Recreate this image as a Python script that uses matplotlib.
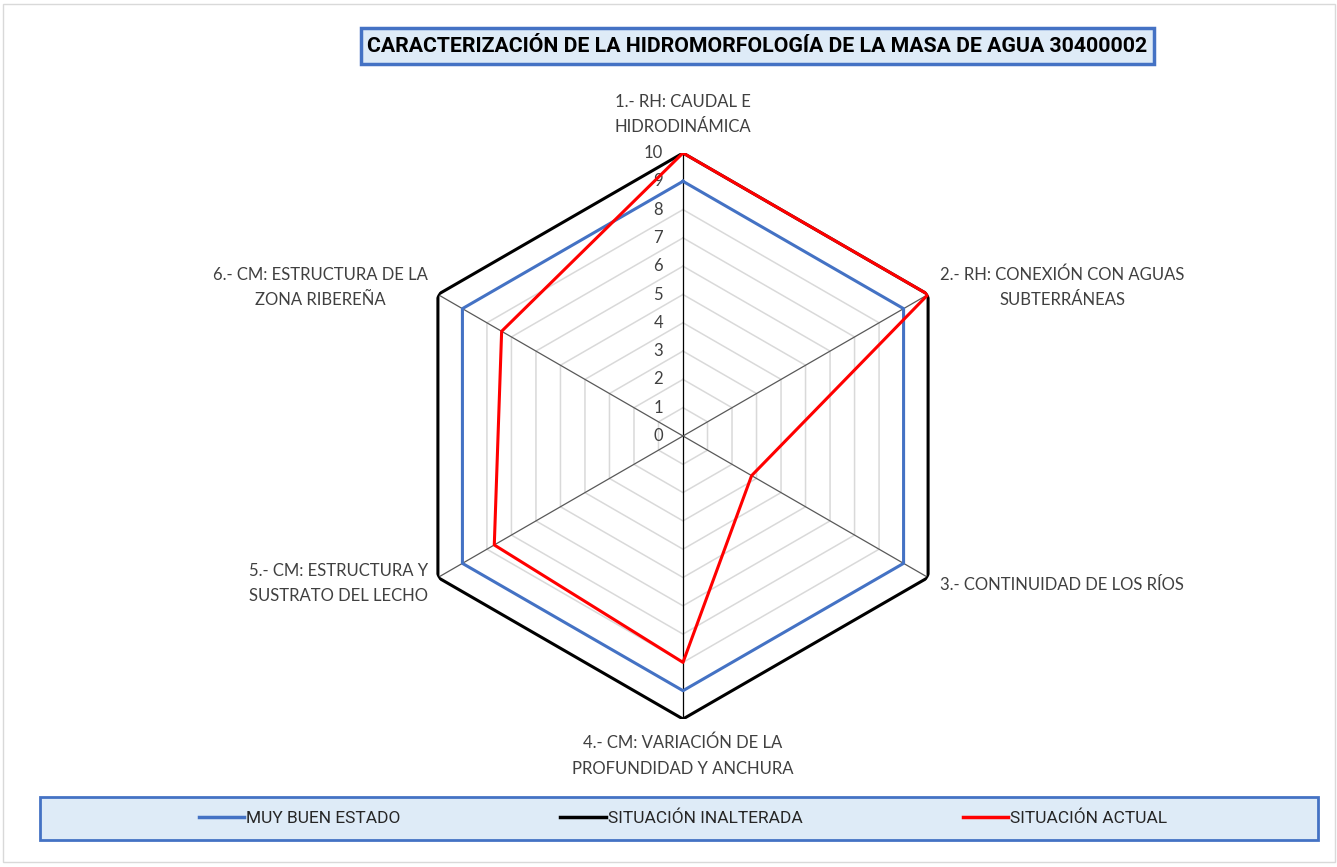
import numpy as np
import matplotlib
matplotlib.use("Agg")
import matplotlib.pyplot as plt
from matplotlib.lines import Line2D
from matplotlib.patches import Rectangle

# Chart data
categories = [
    "1.- RH: CAUDAL E\nHIDRODINÁMICA",
    "2.- RH: CONEXIÓN CON AGUAS\nSUBTERRÁNEAS",
    "3.- CONTINUIDAD DE LOS RÍOS",
    "4.- CM: VARIACIÓN DE LA\nPROFUNDIDAD Y ANCHURA",
    "5.- CM: ESTRUCTURA Y\nSUSTRATO DEL LECHO",
    "6.- CM: ESTRUCTURA DE LA\nZONA RIBEREÑA",
]
muy_buen_estado = [9, 9, 9, 9, 9, 9]
situacion_inalterada = [10, 10, 10, 10, 10, 10]
situacion_actual = [10, 10, 2.8, 8, 7.7, 7.4]
tick_values = [0, 1, 2, 3, 4, 5, 6, 7, 8, 9, 10]

series_names = ["MUY BUEN ESTADO", "SITUACIÓN INALTERADA", "SITUACIÓN ACTUAL"]
series_colors = ["#4472C4", "#000000", "#FF0000"]

TITLE = "CARACTERIZACIÓN DE LA HIDROMORFOLOGÍA DE LA MASA DE AGUA 30400002"

LABEL_FONT = ["Lato", "DejaVu Sans"]
NARROW_FONT = ["Roboto", "DejaVu Sans"]

W, H = 1337, 867
fig = plt.figure(figsize=(W / 100, H / 100), dpi=100)

# outer thin border
fig.patches.append(Rectangle((3 / W, 5 / H), 1332 / W, 858 / H, transform=fig.transFigure,
                             fill=False, edgecolor="#D9D9D9", linewidth=1))

# polar axes: center (683, 436), radius 283 px
cx, cy, rad = 683, 436, 283
ax = fig.add_axes([(cx - rad) / W, (H - cy - rad) / H, 2 * rad / W, 2 * rad / H],
                  projection="polar")
ax.set_theta_zero_location("N")
ax.set_theta_direction(-1)
ax.set_ylim(0, 10)
ax.grid(False)
ax.set_xticks([])
ax.set_yticks([])
ax.spines["polar"].set_visible(False)
ax.patch.set_visible(False)

n = len(categories)
theta = np.arange(n) * 2 * np.pi / n
theta_closed = np.append(theta, theta[0])

# hexagonal gridlines
for level in tick_values[1:]:
    ax.plot(theta_closed, [level] * (n + 1), color="#D9D9D9", linewidth=1.1, zorder=1)

# spokes
for i, t in enumerate(theta):
    col = "#000000" if i in (0, 3) else "#595959"
    ax.plot([t, t], [0, tick_values[-1]], color=col, linewidth=0.9, zorder=2)

# series
for vals, col, z in zip([muy_buen_estado, situacion_inalterada, situacion_actual],
                        series_colors, [3, 4, 5]):
    ax.plot(theta_closed, list(vals) + [vals[0]], color=col, linewidth=2.2, zorder=z)

# value tick labels along the top axis
for v in tick_values:
    ax.annotate(str(v), xy=(0, v), xytext=(-20, 0), textcoords="offset pixels",
                ha="right", va="center", fontsize=12, family=LABEL_FONT, color="#404040")

# category labels
offsets = [(0, 18, "center", "bottom"), (12, 7, "left", "center"), (12, -7, "left", "center"),
           (0, -16, "center", "top"), (-10, -6, "right", "center"), (-10, 7, "right", "center")]
for t, lab, (dx, dy, ha, va) in zip(theta, categories, offsets):
    ax.annotate(lab, xy=(t, 10), xytext=(dx, dy), textcoords="offset pixels",
                ha=ha, va=va, multialignment="center", fontsize=12,
                family=LABEL_FONT, color="#404040", linespacing=1.7)

# title box
fig.patches.append(Rectangle((361 / W, (H - 64) / H), 793 / W, 36 / H, transform=fig.transFigure,
                             facecolor="#DEEBF7", edgecolor="#4472C4", linewidth=2.5))
fig.text(757 / W, (H - 46) / H, TITLE, ha="center", va="center", fontsize=15.3,
         fontweight="bold", family=NARROW_FONT, color="#000000")

# legend box
fig.patches.append(Rectangle((40 / W, (H - 840) / H), 1278 / W, 43 / H, transform=fig.transFigure,
                             facecolor="#DEEBF7", edgecolor="#4472C4", linewidth=2))
handles = [Line2D([0], [0], color=c, linewidth=2.5) for c in series_colors]
leg = fig.legend(handles, series_names, loc="center", bbox_to_anchor=(683 / W, (H - 818) / H),
                 ncol=3, frameon=False, handlelength=2.6, handletextpad=0.15,
                 columnspacing=9.2, prop={"family": NARROW_FONT, "size": 12.5})
for txt in leg.get_texts():
    txt.set_color("#262626")

fig.savefig("out.png", dpi=100)
